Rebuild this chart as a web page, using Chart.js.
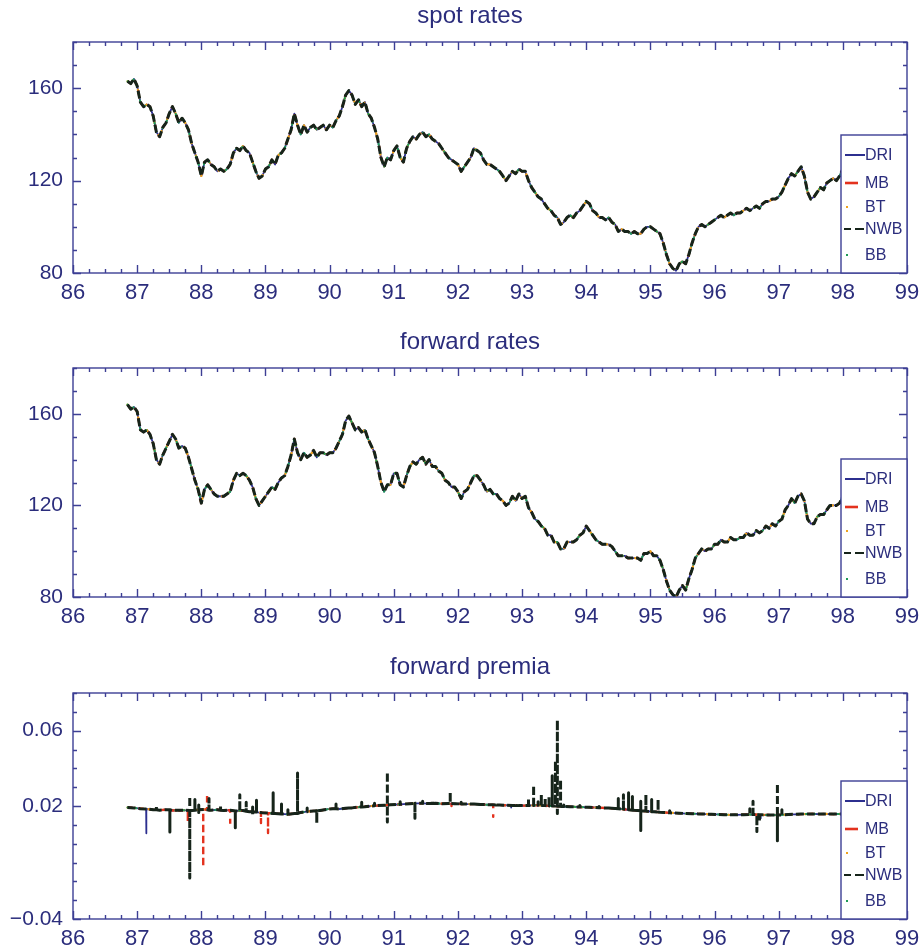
<!DOCTYPE html>
<html>
<head>
<meta charset="utf-8">
<script src="https://cdn.jsdelivr.net/npm/chart.js@4.4.1/dist/chart.umd.min.js"></script>
<style>
  html, body { margin: 0; padding: 0; background: #fff; width: 922px; height: 950px; overflow: hidden; position: relative; }
  canvas { position: absolute; left: 0; }
</style>
</head>
<body>
<canvas id="spot" width="922" height="310" style="top:0px"></canvas>
<canvas id="fwd" width="922" height="308" style="top:326px"></canvas>
<canvas id="prem" width="922" height="299" style="top:651px"></canvas>
<script>
// ---- data -------------------------------------------------------------
const sources = ['DRI', 'MB', 'BT', 'NWB', 'BB'];
const yearTicks = [86, 87, 88, 89, 90, 91, 92, 93, 94, 95, 96, 97, 98, 99];
const rateTickLabels = [80, 120, 160];
const premiaTickLabels = [-0.04, 0.02, 0.06];

// yen per dollar, sampled every 0.05 year from 86.85
const rateStart = 86.85, rateStep = 0.05;
const spotRates = [
  163,162,164,161,154,152,153,152,148,141,139,143,145,149,152,149,145,147,145,142,
  136,132,128,122,128,129,127,126,124,125,124,125,127,132,134,133,135,133,132,128,
  124,121,122,125,126,129,127,131,132,134,138,142,149,144,140,144,141,143,144,142,
  143,144,142,144,143,146,148,152,157,159,157,153,155,152,154,149,147,143,138,130,
  126,130,129,133,135,130,128,134,137,139,138,140,141,139,140,138,137,136,134,132,
  130,129,128,127,124,126,128,130,134,133,132,129,127,127,126,125,124,122,120,122,
  124,123,125,124,124,120,117,115,113,112,110,108,107,105,104,101,102,104,105,104,
  106,107,109,111,110,107,106,104,104,103,104,102,101,98,99,98,98,97,98,97,
  97,99,100,100,99,98,97,93,88,84,82,81,84,85,84,88,93,97,100,101,
  100,101,102,103,104,105,104,105,106,105,106,106,107,108,107,108,109,108,110,111,
  111,112,112,113,115,118,121,123,122,124,126,122,115,112,113,115,117,116,119,120,
  121,120,122,125,127
];
const forwardRates = [
  164,162,163,161,153,152,153,151,147,140,138,142,145,148,151,149,145,146,145,141,
  136,131,127,121,127,129,127,125,124,124,124,125,126,131,134,133,134,133,131,128,
  123,120,122,124,126,128,127,130,132,133,137,142,149,143,140,143,141,142,144,141,
  143,143,142,143,143,145,148,151,157,159,156,153,154,152,153,149,146,143,137,130,
  126,129,129,134,134,129,128,133,137,139,138,140,141,138,140,137,137,135,134,131,
  130,128,128,126,123,126,127,130,133,133,131,129,126,127,125,125,123,122,120,121,
  124,122,125,123,124,119,117,114,113,111,110,107,107,104,104,101,101,104,104,104,
  105,107,108,111,109,107,105,104,103,103,103,102,100,98,98,98,97,97,97,97,
  96,99,99,100,98,98,96,92,87,83,81,80,83,85,83,88,92,97,99,101,
  100,101,101,103,103,105,104,104,106,105,105,106,106,108,107,107,109,108,109,111,
  110,112,111,113,114,118,120,123,121,124,125,122,114,112,112,115,116,116,118,120,
  120,120,121,124,126
];

// forward premium common path, every 0.1 year from 86.85
const premiaStart = 86.85, premiaStep = 0.1;
const premiaBase = [
  0.0192,0.0190,0.0186,0.0184,0.0180,0.0178,0.0180,0.0176,0.0178,0.0177,
  0.0176,0.0180,0.0182,0.0178,0.0180,0.0176,0.0178,0.0174,0.0176,0.0170,
  0.0168,0.0164,0.0162,0.0160,0.0158,0.0156,0.0160,0.0166,0.0170,0.0174,
  0.0176,0.0182,0.0186,0.0184,0.0188,0.0190,0.0194,0.0196,0.0200,0.0202,
  0.0204,0.0206,0.0208,0.0210,0.0212,0.0214,0.0214,0.0213,0.0214,0.0212,
  0.0213,0.0212,0.0211,0.0210,0.0210,0.0208,0.0207,0.0206,0.0205,0.0204,
  0.0203,0.0202,0.0202,0.0203,0.0204,0.0202,0.0200,0.0199,0.0197,0.0196,
  0.0195,0.0194,0.0193,0.0192,0.0190,0.0189,0.0187,0.0184,0.0180,0.0177,
  0.0175,0.0172,0.0170,0.0167,0.0165,0.0163,0.0162,0.0160,0.0159,0.0158,
  0.0157,0.0156,0.0155,0.0154,0.0153,0.0153,0.0154,0.0155,0.0154,0.0153,
  0.0152,0.0152,0.0153,0.0155,0.0156,0.0157,0.0157,0.0158,0.0157,0.0158,
  0.0157,0.0158,0.0158
];

// single-week outliers per source: [year, level, extreme(s)]
const premiaSpikes = {
  DRI: [[87.14, 0.0184, 0.0055], [92.83, 0.0203, 0.0192], [96.72, 0.0153, 0.0135]],
  MB: [[87.66, 0.0178, 0.0166], [87.79, 0.0177, 0.0117], [88.03, 0.0182, -0.0124],
       [88.09, 0.0180, 0.0265], [88.45, 0.0178, 0.0090], [88.93, 0.0166, 0.0110],
       [89.04, 0.0162, 0.0057], [91.90, 0.0212, 0.0200], [92.55, 0.0206, 0.0143]],
  BT: [],
  NWB: [[87.30, 0.0180, 0.0198], [87.51, 0.0180, 0.0062], [87.82, 0.0176, -0.0182, 0.0250],
        [87.90, 0.0178, 0.0235], [87.96, 0.0180, 0.0205, 0.0165], [88.12, 0.0178, 0.0240],
        [88.30, 0.0178, 0.0200], [88.53, 0.0174, 0.0085], [88.60, 0.0175, 0.0260],
        [88.70, 0.0172, 0.0220], [88.80, 0.0169, 0.0195, 0.0150], [88.86, 0.0168, 0.0230],
        [89.12, 0.0160, 0.0270], [89.25, 0.0158, 0.0210], [89.35, 0.0156, 0.0180],
        [89.50, 0.0160, 0.0375], [89.65, 0.0170, 0.0190], [89.80, 0.0175, 0.0110],
        [90.10, 0.0185, 0.0210], [90.30, 0.0189, 0.0200], [90.50, 0.0195, 0.0220],
        [90.70, 0.0201, 0.0215], [90.90, 0.0205, 0.0380, 0.0115], [91.10, 0.0209, 0.0222],
        [91.33, 0.0214, 0.0135], [91.45, 0.0214, 0.0225], [91.60, 0.0213, 0.0230],
        [91.88, 0.0213, 0.0275], [92.05, 0.0211, 0.0220], [92.30, 0.0209, 0.0220],
        [92.60, 0.0205, 0.0212], [92.90, 0.0203, 0.0212], [93.10, 0.0202, 0.0240],
        [93.18, 0.0203, 0.0310], [93.25, 0.0204, 0.0222], [93.30, 0.0203, 0.0260],
        [93.36, 0.0202, 0.0240], [93.42, 0.0201, 0.0250], [93.47, 0.0200, 0.0360],
        [93.52, 0.0200, 0.0440], [93.55, 0.0199, 0.0657, 0.0160], [93.60, 0.0198, 0.0340],
        [93.65, 0.0197, 0.0205], [93.90, 0.0195, 0.0203], [94.20, 0.0191, 0.0198],
        [94.40, 0.0188, 0.0198], [94.50, 0.0186, 0.0240], [94.58, 0.0184, 0.0260],
        [94.66, 0.0180, 0.0270], [94.72, 0.0178, 0.0250], [94.85, 0.0175, 0.0225, 0.0070],
        [94.93, 0.0173, 0.0260], [95.02, 0.0170, 0.0235], [95.12, 0.0168, 0.0235],
        [95.30, 0.0164, 0.0175], [96.55, 0.0155, 0.0185], [96.60, 0.0155, 0.0225],
        [96.66, 0.0154, 0.0064], [96.70, 0.0154, 0.0120], [96.98, 0.0152, 0.0320, 0.0016],
        [97.05, 0.0153, 0.0180]],
  BB: []
};

// ---- styling ----------------------------------------------------------
const AXIS = '#3d3f95';
const INK = '#2b2d7c';
const FONT = '"Liberation Sans", Arial, sans-serif';
const sourceStyle = {
  DRI: { color: '#2c2f8f', width: 1.8, dash: [],     cap: 'butt',  order: 4 },
  MB:  { color: '#e3321e', width: 2.4, dash: [5, 6], cap: 'butt',  order: 2 },
  BT:  { color: '#f0a21c', width: 2.2, dash: [1, 6], cap: 'round', order: 3 },
  NWB: { color: '#16241a', width: 3.0, dash: [8, 3], cap: 'butt',  order: 0 },
  BB:  { color: '#1f9a55', width: 2.0, dash: [1, 7], cap: 'round', order: 1 }
};
const legendRowRise = [118, 90, 66, 44, 18];

// ---- series builders --------------------------------------------------
function ratePoints(values) {
  return values.map((v, i) => ({ x: rateStart + i * rateStep, y: v }));
}
function premiaPoints(src) {
  const pts = premiaBase.map((v, i) => ({ x: premiaStart + i * premiaStep, y: v }));
  for (const [x, level, ...tips] of premiaSpikes[src]) {
    pts.push({ x, y: level }, ...tips.map(t => ({ x, y: t })), { x, y: level });
  }
  return pts.sort((a, b) => a.x - b.x);
}
function datasetsFor(pointsOf) {
  return sources.map(src => {
    const s = sourceStyle[src];
    return {
      label: src,
      data: pointsOf(src),
      borderColor: s.color,
      borderWidth: s.width,
      borderDash: s.dash,
      borderCapStyle: s.cap,
      borderJoinStyle: 'round',
      pointRadius: 0,
      tension: 0,
      fill: false,
      order: s.order
    };
  });
}

// ---- frame, inward ticks, title and boxed legend ----------------------
const panelPlugin = {
  id: 'panel',
  afterDraw(chart, _args, o) {
    const { ctx, chartArea: a, scales: { x, y } } = chart;
    ctx.save();
    ctx.strokeStyle = AXIS;
    ctx.lineWidth = 1.4;
    ctx.beginPath();
    const near = (p, q, step) => Math.abs(p - q) < step / 100;
    for (let n = Math.round(x.min / o.xStep); n <= Math.round(x.max / o.xStep); n++) {
      const v = n * o.xStep;
      const px = Math.round(x.getPixelForValue(v)) + 0.5;
      const len = x.ticks.some(t => near(t.value, v, o.xStep)) ? 8 : 4;
      ctx.moveTo(px, a.bottom); ctx.lineTo(px, a.bottom - len);
      ctx.moveTo(px, a.top); ctx.lineTo(px, a.top + len);
    }
    for (let n = Math.round(y.min / o.yStep); n <= Math.round(y.max / o.yStep); n++) {
      const v = n * o.yStep;
      const py = Math.round(y.getPixelForValue(v)) + 0.5;
      const len = y.ticks.some(t => near(t.value, v, o.yStep)) ? 8 : 4;
      ctx.moveTo(a.left, py); ctx.lineTo(a.left + len, py);
      ctx.moveTo(a.right, py); ctx.lineTo(a.right - len, py);
    }
    ctx.stroke();
    ctx.strokeRect(a.left, a.top, a.right - a.left, a.bottom - a.top);

    // title
    ctx.fillStyle = INK;
    ctx.font = '24px ' + FONT;
    ctx.textAlign = 'center';
    ctx.textBaseline = 'middle';
    ctx.fillText(o.title, 470, a.top - 26);

    // legend box in the lower right corner
    const L = a.right - 66, T = a.bottom - 138;
    ctx.fillStyle = '#fff';
    ctx.fillRect(L, T, a.right - L, a.bottom - T);
    ctx.strokeStyle = AXIS;
    ctx.lineWidth = 1.4;
    ctx.strokeRect(L, T, a.right - L, a.bottom - T);
    ctx.font = '16px ' + FONT;
    ctx.textAlign = 'left';
    sources.forEach((src, i) => {
      const ry = a.bottom - legendRowRise[i];
      const s = sourceStyle[src];
      ctx.strokeStyle = s.color;
      ctx.fillStyle = s.color;
      ctx.setLineDash([]);
      ctx.beginPath();
      if (src === 'DRI') {
        ctx.lineWidth = 2; ctx.moveTo(L + 4, ry); ctx.lineTo(L + 24, ry); ctx.stroke();
      } else if (src === 'MB') {
        ctx.lineWidth = 2.6; ctx.moveTo(L + 4, ry); ctx.lineTo(L + 17, ry); ctx.stroke();
      } else if (src === 'NWB') {
        ctx.lineWidth = 2.2;
        ctx.moveTo(L + 3, ry); ctx.lineTo(L + 10, ry);
        ctx.moveTo(L + 14, ry); ctx.lineTo(L + 23, ry); ctx.stroke();
      } else {
        ctx.fillRect(L + 5, ry - 1, 2, 2);
      }
      ctx.fillStyle = INK;
      ctx.fillText(src, L + 24, ry + 1);
    });
    ctx.restore();
  }
};

function panel(id, title, datasets, yOpts, xAxisHeight) {
  return new Chart(document.getElementById(id), {
    type: 'line',
    data: { datasets },
    options: {
      responsive: false,
      animation: false,
      devicePixelRatio: 1,
      normalized: true,
      layout: { padding: { top: 42, right: 15, left: 0, bottom: 0 } },
      plugins: {
        legend: { display: false },
        tooltip: { enabled: false },
        panel: { title, xStep: 0.25, yStep: yOpts.step }
      },
      scales: {
        x: {
          type: 'linear', min: 86, max: 99,
          grid: { display: false, drawTicks: false }, border: { display: false },
          afterBuildTicks: s => { s.ticks = yearTicks.map(v => ({ value: v })); },
          afterFit: s => { s.height = xAxisHeight; s.paddingLeft = 0; s.paddingRight = 0; },
          ticks: { padding: 7, color: INK, font: { family: FONT, size: 22 },
                   maxRotation: 0, autoSkip: false, callback: v => String(v) }
        },
        y: {
          type: 'linear', min: yOpts.min, max: yOpts.max,
          grid: { display: false, drawTicks: false }, border: { display: false },
          afterBuildTicks: s => { s.ticks = yOpts.labels.map(v => ({ value: v })); },
          afterFit: s => { s.width = 73; },
          ticks: { padding: 10, color: INK, font: { family: FONT, size: 21 },
                   autoSkip: false, callback: yOpts.format }
        }
      }
    },
    plugins: [panelPlugin]
  });
}

const rateAxis = { min: 80, max: 180, step: 10, labels: rateTickLabels, format: v => String(v) };
const premiaAxis = { min: -0.04, max: 0.08, step: 0.01, labels: premiaTickLabels,
                     format: v => v.toFixed(2).replace('-', '\u2212') };

panel('spot', 'spot rates', datasetsFor(() => ratePoints(spotRates)), rateAxis, 37);
panel('fwd', 'forward rates', datasetsFor(() => ratePoints(forwardRates)), rateAxis, 37);
panel('prem', 'forward premia', datasetsFor(premiaPoints), premiaAxis, 31);
</script>
</body>
</html>
